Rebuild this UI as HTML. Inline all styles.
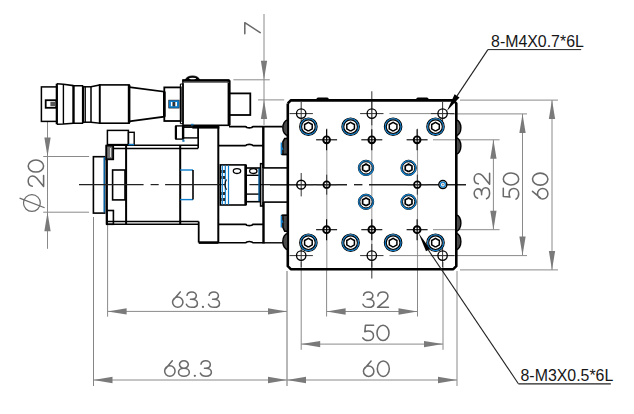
<!DOCTYPE html>
<html><head><meta charset="utf-8"><style>
html,body{margin:0;padding:0;background:#fff;width:634px;height:414px;overflow:hidden}
svg{display:block}
text{font-family:"Liberation Sans",sans-serif}
</style></head><body>
<svg width="634" height="414" viewBox="0 0 634 414">
<line x1="264" y1="14" x2="264" y2="125" stroke="#8a8a8a" stroke-width="1" />
<polygon points="264.00,79.80 260.85,60.80 267.15,60.80" fill="#7a7a7a" stroke="none" stroke-width="0"/>
<polygon points="264.00,99.90 267.15,118.90 260.85,118.90" fill="#7a7a7a" stroke="none" stroke-width="0"/>
<line x1="233.4" y1="79.8" x2="269.8" y2="79.8" stroke="#8a8a8a" stroke-width="1" />
<line x1="258" y1="99.9" x2="284.2" y2="99.9" stroke="#8a8a8a" stroke-width="1" />
<g transform="translate(244,34.50) rotate(-90) scale(1.0,1)" fill="none" stroke="#6a6a6a" stroke-width="1.55" stroke-linecap="round" stroke-linejoin="round"><path transform="translate(0.00,0)" d="M0.8,0.8 L11.8,0.8 L1.9,16.2"/></g>
<line x1="493.4" y1="139.8" x2="493.4" y2="229.7" stroke="#8a8a8a" stroke-width="1" />
<polygon points="493.40,139.80 496.55,158.80 490.25,158.80" fill="#7a7a7a" stroke="none" stroke-width="0"/>
<polygon points="493.40,229.70 490.25,210.70 496.55,210.70" fill="#7a7a7a" stroke="none" stroke-width="0"/>
<g transform="translate(473.4,199.55) rotate(-90) scale(1.0,1)" fill="none" stroke="#6a6a6a" stroke-width="1.55" stroke-linecap="round" stroke-linejoin="round"><path transform="translate(0.00,0)" d="M1.4,4.2 C1.8,2.0 3.8,0.8 6.2,0.8 C8.8,0.8 10.7,2.5 10.7,4.5 C10.7,6.7 8.9,8.2 6.0,8.2 L4.9,8.2 M6.0,8.2 C9.6,8.2 11.8,10.0 11.8,12.3 C11.8,14.7 9.6,16.2 6.3,16.2 C3.6,16.2 1.6,15.0 0.8,13.1"/><path transform="translate(14.50,0)" d="M1.2,4.9 C1.4,2.3 3.6,0.8 6.3,0.8 C9.2,0.8 11.3,2.6 11.3,5.1 C11.3,6.8 10.5,8.0 9.3,9.2 L0.9,16.2 L11.8,16.2"/></g>
<line x1="522.5" y1="113.9" x2="522.5" y2="255.6" stroke="#8a8a8a" stroke-width="1" />
<polygon points="522.50,113.90 525.65,132.90 519.35,132.90" fill="#7a7a7a" stroke="none" stroke-width="0"/>
<polygon points="522.50,255.60 519.35,236.60 525.65,236.60" fill="#7a7a7a" stroke="none" stroke-width="0"/>
<g transform="translate(502.49999999999994,199.90) rotate(-90) scale(1.0,1)" fill="none" stroke="#6a6a6a" stroke-width="1.55" stroke-linecap="round" stroke-linejoin="round"><path transform="translate(0.00,0)" d="M11.6,0.8 L3.5,0.8 L2.8,7.4 C3.9,6.9 5.0,6.6 6.2,6.6 C9.4,6.6 11.5,8.6 11.5,11.4 C11.5,14.2 9.2,16.2 6.1,16.2 C3.7,16.2 1.8,15.2 0.8,13.5"/><path transform="translate(14.20,0)" d="M6.8,0.8 A6,7.7 0 1 1 6.8,16.2 A6,7.7 0 1 1 6.8,0.8"/></g>
<line x1="552" y1="100.1" x2="552" y2="269.9" stroke="#8a8a8a" stroke-width="1" />
<polygon points="552.00,100.10 555.15,119.10 548.85,119.10" fill="#7a7a7a" stroke="none" stroke-width="0"/>
<polygon points="552.00,269.90 548.85,250.90 555.15,250.90" fill="#7a7a7a" stroke="none" stroke-width="0"/>
<g transform="translate(531.7,199.70) rotate(-90) scale(1.0,1)" fill="none" stroke="#6a6a6a" stroke-width="1.55" stroke-linecap="round" stroke-linejoin="round"><path transform="translate(0.00,0)" d="M8.4,0.8 L1.5,8.9 M0.75,11 A5.2,5.2 0 1 0 11.15,11 A5.2,5.2 0 1 0 0.75,11"/><path transform="translate(13.80,0)" d="M6.8,0.8 A6,7.7 0 1 1 6.8,16.2 A6,7.7 0 1 1 6.8,0.8"/></g>
<line x1="107.6" y1="225" x2="107.6" y2="316.7" stroke="#8a8a8a" stroke-width="1" />
<line x1="93.5" y1="217" x2="93.5" y2="386" stroke="#858585" stroke-width="1" />
<line x1="287" y1="271" x2="287" y2="386" stroke="#707070" stroke-width="1" />
<line x1="457" y1="271" x2="457" y2="386" stroke="#8a8a8a" stroke-width="1" />
<line x1="301.2" y1="262" x2="301.2" y2="349.8" stroke="#8a8a8a" stroke-width="1" />
<line x1="443" y1="262" x2="443" y2="349.8" stroke="#8a8a8a" stroke-width="1" />
<line x1="326.6" y1="271" x2="326.6" y2="316.5" stroke="#8a8a8a" stroke-width="1" />
<line x1="417.5" y1="271" x2="417.5" y2="316.5" stroke="#8a8a8a" stroke-width="1" />
<line x1="107.6" y1="311.4" x2="287" y2="311.4" stroke="#8a8a8a" stroke-width="1" />
<polygon points="107.60,311.40 126.60,308.25 126.60,314.55" fill="#7a7a7a" stroke="none" stroke-width="0"/>
<polygon points="287.00,311.40 268.00,314.55 268.00,308.25" fill="#7a7a7a" stroke="none" stroke-width="0"/>
<g transform="translate(171.80,291.1) scale(1.0,1)" fill="none" stroke="#6a6a6a" stroke-width="1.55" stroke-linecap="round" stroke-linejoin="round"><path transform="translate(0.00,0)" d="M8.4,0.8 L1.5,8.9 M0.75,11 A5.2,5.2 0 1 0 11.15,11 A5.2,5.2 0 1 0 0.75,11"/><path transform="translate(13.80,0)" d="M1.4,4.2 C1.8,2.0 3.8,0.8 6.2,0.8 C8.8,0.8 10.7,2.5 10.7,4.5 C10.7,6.7 8.9,8.2 6.0,8.2 L4.9,8.2 M6.0,8.2 C9.6,8.2 11.8,10.0 11.8,12.3 C11.8,14.7 9.6,16.2 6.3,16.2 C3.6,16.2 1.6,15.0 0.8,13.1"/><circle cx="31.15" cy="15.85" r="1.15" fill="#6a6a6a" stroke="none"/><path transform="translate(35.90,0)" d="M1.4,4.2 C1.8,2.0 3.8,0.8 6.2,0.8 C8.8,0.8 10.7,2.5 10.7,4.5 C10.7,6.7 8.9,8.2 6.0,8.2 L4.9,8.2 M6.0,8.2 C9.6,8.2 11.8,10.0 11.8,12.3 C11.8,14.7 9.6,16.2 6.3,16.2 C3.6,16.2 1.6,15.0 0.8,13.1"/></g>
<line x1="93.5" y1="380" x2="287" y2="380" stroke="#8a8a8a" stroke-width="1" />
<polygon points="93.50,380.00 112.50,376.85 112.50,383.15" fill="#7a7a7a" stroke="none" stroke-width="0"/>
<polygon points="287.00,380.00 268.00,383.15 268.00,376.85" fill="#7a7a7a" stroke="none" stroke-width="0"/>
<g transform="translate(163.90,360) scale(1.0,1)" fill="none" stroke="#6a6a6a" stroke-width="1.55" stroke-linecap="round" stroke-linejoin="round"><path transform="translate(0.00,0)" d="M8.4,0.8 L1.5,8.9 M0.75,11 A5.2,5.2 0 1 0 11.15,11 A5.2,5.2 0 1 0 0.75,11"/><path transform="translate(13.80,0)" d="M6.2,0.8 A4.4,3.7 0 1 1 6.2,8.2 A4.4,3.7 0 1 1 6.2,0.8 M6.2,8.2 A5.4,4.0 0 1 1 6.2,16.2 A5.4,4.0 0 1 1 6.2,8.2"/><circle cx="30.95" cy="15.85" r="1.15" fill="#6a6a6a" stroke="none"/><path transform="translate(35.70,0)" d="M1.4,4.2 C1.8,2.0 3.8,0.8 6.2,0.8 C8.8,0.8 10.7,2.5 10.7,4.5 C10.7,6.7 8.9,8.2 6.0,8.2 L4.9,8.2 M6.0,8.2 C9.6,8.2 11.8,10.0 11.8,12.3 C11.8,14.7 9.6,16.2 6.3,16.2 C3.6,16.2 1.6,15.0 0.8,13.1"/></g>
<line x1="326.6" y1="311.5" x2="417.5" y2="311.5" stroke="#8a8a8a" stroke-width="1" />
<polygon points="326.60,311.50 345.60,308.35 345.60,314.65" fill="#7a7a7a" stroke="none" stroke-width="0"/>
<polygon points="417.50,311.50 398.50,314.65 398.50,308.35" fill="#7a7a7a" stroke="none" stroke-width="0"/>
<g transform="translate(362.15,291.1) scale(1.0,1)" fill="none" stroke="#6a6a6a" stroke-width="1.55" stroke-linecap="round" stroke-linejoin="round"><path transform="translate(0.00,0)" d="M1.4,4.2 C1.8,2.0 3.8,0.8 6.2,0.8 C8.8,0.8 10.7,2.5 10.7,4.5 C10.7,6.7 8.9,8.2 6.0,8.2 L4.9,8.2 M6.0,8.2 C9.6,8.2 11.8,10.0 11.8,12.3 C11.8,14.7 9.6,16.2 6.3,16.2 C3.6,16.2 1.6,15.0 0.8,13.1"/><path transform="translate(14.50,0)" d="M1.2,4.9 C1.4,2.3 3.6,0.8 6.3,0.8 C9.2,0.8 11.3,2.6 11.3,5.1 C11.3,6.8 10.5,8.0 9.3,9.2 L0.9,16.2 L11.8,16.2"/></g>
<line x1="301.2" y1="344.1" x2="443" y2="344.1" stroke="#8a8a8a" stroke-width="1" />
<polygon points="301.20,344.10 320.20,340.95 320.20,347.25" fill="#7a7a7a" stroke="none" stroke-width="0"/>
<polygon points="443.00,344.10 424.00,347.25 424.00,340.95" fill="#7a7a7a" stroke="none" stroke-width="0"/>
<g transform="translate(362.00,324.4) scale(1.0,1)" fill="none" stroke="#6a6a6a" stroke-width="1.55" stroke-linecap="round" stroke-linejoin="round"><path transform="translate(0.00,0)" d="M11.6,0.8 L3.5,0.8 L2.8,7.4 C3.9,6.9 5.0,6.6 6.2,6.6 C9.4,6.6 11.5,8.6 11.5,11.4 C11.5,14.2 9.2,16.2 6.1,16.2 C3.7,16.2 1.8,15.2 0.8,13.5"/><path transform="translate(14.20,0)" d="M6.8,0.8 A6,7.7 0 1 1 6.8,16.2 A6,7.7 0 1 1 6.8,0.8"/></g>
<line x1="287" y1="380" x2="457" y2="380" stroke="#8a8a8a" stroke-width="1" />
<polygon points="287.00,380.00 306.00,376.85 306.00,383.15" fill="#7a7a7a" stroke="none" stroke-width="0"/>
<polygon points="457.00,380.00 438.00,383.15 438.00,376.85" fill="#7a7a7a" stroke="none" stroke-width="0"/>
<g transform="translate(362.70,360.2) scale(1.0,1)" fill="none" stroke="#6a6a6a" stroke-width="1.55" stroke-linecap="round" stroke-linejoin="round"><path transform="translate(0.00,0)" d="M8.4,0.8 L1.5,8.9 M0.75,11 A5.2,5.2 0 1 0 11.15,11 A5.2,5.2 0 1 0 0.75,11"/><path transform="translate(13.80,0)" d="M6.8,0.8 A6,7.7 0 1 1 6.8,16.2 A6,7.7 0 1 1 6.8,0.8"/></g>
<line x1="47.5" y1="121.4" x2="47.5" y2="248.8" stroke="#8a8a8a" stroke-width="1" />
<polygon points="47.50,156.50 44.35,137.50 50.65,137.50" fill="#7a7a7a" stroke="none" stroke-width="0"/>
<polygon points="47.50,212.20 50.65,231.20 44.35,231.20" fill="#7a7a7a" stroke="none" stroke-width="0"/>
<line x1="43.2" y1="156.5" x2="89.1" y2="156.5" stroke="#8a8a8a" stroke-width="1" />
<line x1="43.2" y1="212.2" x2="89.1" y2="212.2" stroke="#8a8a8a" stroke-width="1" />
<g transform="translate(27.4,187.35) rotate(-90) scale(1.0,1)" fill="none" stroke="#6a6a6a" stroke-width="1.55" stroke-linecap="round" stroke-linejoin="round"><path transform="translate(0.00,0)" d="M1.2,4.9 C1.4,2.3 3.6,0.8 6.3,0.8 C9.2,0.8 11.3,2.6 11.3,5.1 C11.3,6.8 10.5,8.0 9.3,9.2 L0.9,16.2 L11.8,16.2"/><path transform="translate(14.50,0)" d="M6.8,0.8 A6,7.7 0 1 1 6.8,16.2 A6,7.7 0 1 1 6.8,0.8"/></g>
<circle cx="31.9" cy="203.05" r="8.4" fill="none" stroke="#6a6a6a" stroke-width="1.2"/>
<line x1="19.6" y1="198.1" x2="44.6" y2="207.7" stroke="#6a6a6a" stroke-width="1.2" />
<rect x="41.4" y="86.9" width="15.399999999999999" height="34.5" fill="none" stroke="#000" stroke-width="1.5"/>
<rect x="45.7" y="100.2" width="10.599999999999994" height="7.599999999999994" fill="none" stroke="#000" stroke-width="1.8"/>
<rect x="47.3" y="102" width="2.9000000000000057" height="4" fill="#fff" stroke="none" stroke-width="0"/>
<rect x="50.4" y="101.8" width="4.600000000000001" height="4.400000000000006" fill="#555" stroke="none" stroke-width="0"/>
<line x1="56.8" y1="83.7" x2="56.8" y2="124.2" stroke="#000" stroke-width="2.2" />
<polyline points="56.8,83.7 63.4,84.2 73.5,85.6 83.1,85.8" fill="none" stroke="#000" stroke-width="1.6" />
<polyline points="56.8,124.2 63.4,124 73.5,123.3 83.1,123.2" fill="none" stroke="#000" stroke-width="1.6" />
<line x1="63.4" y1="84.2" x2="63.4" y2="124" stroke="#000" stroke-width="1.4" />
<line x1="73.5" y1="85.6" x2="73.5" y2="123.3" stroke="#000" stroke-width="2.4" />
<line x1="83.1" y1="85.8" x2="83.1" y2="123.2" stroke="#000" stroke-width="2.4" />
<rect x="83.1" y="86.8" width="7.900000000000006" height="35.400000000000006" fill="none" stroke="#000" stroke-width="1.5"/>
<line x1="85.3" y1="86.8" x2="85.3" y2="122.2" stroke="#000" stroke-width="1.2" />
<polyline points="91,86.8 99.7,84.9 99.7,123.2 91,122.2" fill="none" stroke="#000" stroke-width="1.6" />
<rect x="99.7" y="84.9" width="29.39999999999999" height="38.3" fill="none" stroke="#000" stroke-width="1.6"/>
<line x1="129.1" y1="84.9" x2="129.1" y2="122.9" stroke="#000" stroke-width="2.6" />
<polyline points="129.1,87.1 164.3,91.7 164.3,116.7 129.1,121.4" fill="none" stroke="#000" stroke-width="1.8" />
<line x1="164.3" y1="91.7" x2="164.3" y2="116.7" stroke="#000" stroke-width="2.6" />
<rect x="164.3" y="87.4" width="16.5" height="33.599999999999994" fill="none" stroke="#000" stroke-width="1.8"/>
<line x1="180.4" y1="84" x2="180.4" y2="123.7" stroke="#000" stroke-width="1.1" />
<line x1="183" y1="84" x2="183" y2="123.7" stroke="#000" stroke-width="1.1" />
<line x1="180.4" y1="84" x2="183" y2="84" stroke="#000" stroke-width="1" />
<line x1="180.4" y1="123.7" x2="183" y2="123.7" stroke="#000" stroke-width="1" />
<rect x="183" y="80.3" width="46.099999999999994" height="45.0" fill="none" stroke="#000" stroke-width="1.6"/>
<line x1="229.1" y1="80.3" x2="229.1" y2="125.3" stroke="#000" stroke-width="3" />
<line x1="182.4" y1="80.5" x2="229.1" y2="80.5" stroke="#000" stroke-width="2.4" />
<line x1="183" y1="82.3" x2="229.1" y2="82.3" stroke="#555" stroke-width="1.0" />
<path d="M185.2,80.6 A7.2,4.6 0 0 1 199.8,80.6 Z" fill="#000" stroke="#000" stroke-width="0.8"/><ellipse cx="192.6" cy="78.6" rx="3.6" ry="0.75" fill="#fff"/>
<rect x="229.1" y="93.4" width="21.200000000000017" height="21.599999999999994" fill="none" stroke="#000" stroke-width="1.8"/>
<rect x="168.7" y="100.1" width="10.5" height="8.0" fill="#0b7ccb" stroke="#222" stroke-width="0.6"/>
<rect x="170.9" y="102" width="1.6999999999999886" height="4.200000000000003" fill="#fff" stroke="none" stroke-width="0"/>
<rect x="175.2" y="102" width="1.8000000000000114" height="4.200000000000003" fill="#fff" stroke="none" stroke-width="0"/>
<rect x="172.6" y="102" width="2.5999999999999943" height="4.200000000000003" fill="#333" stroke="none" stroke-width="0"/>
<rect x="175.9" y="125.9" width="7.199999999999989" height="13.199999999999989" fill="none" stroke="#000" stroke-width="1.4"/>
<line x1="175.9" y1="125.9" x2="175.9" y2="139.1" stroke="#000" stroke-width="2.2" />
<line x1="183.1" y1="125.9" x2="183.1" y2="139.1" stroke="#000" stroke-width="2.4" />
<rect x="183.1" y="127" width="15.099999999999994" height="10.900000000000006" fill="none" stroke="#000" stroke-width="1.4"/>
<line x1="183.1" y1="127.1" x2="192.3" y2="127.1" stroke="#000" stroke-width="1.4" />
<line x1="192.3" y1="127.2" x2="219.3" y2="127.2" stroke="#000" stroke-width="2.8" />
<rect x="191" y="123.8" width="2.6" height="1.6" fill="#1f78b4"/>
<line x1="198.2" y1="127" x2="198.2" y2="148.2" stroke="#000" stroke-width="1.6" />
<line x1="218.3" y1="126.5" x2="218.3" y2="242.9" stroke="#000" stroke-width="2.0" />
<path d="M229,126.6 L245.3,126.6 Q246.3,126.6 246.8,127.5 Q249.3,128.2 251.8,127.5 Q252.3,126.6 253.3,126.6 L282.5,126.6" fill="none" stroke="#000" stroke-width="1.6"/>
<line x1="263.3" y1="126.6" x2="263.3" y2="167.9" stroke="#000" stroke-width="2.4" />
<path d="M218,145.6 L245.3,145.6 Q246.3,145.6 246.8,144.7 Q249.3,144.0 251.8,144.7 Q252.3,145.6 253.3,145.6 L263.3,145.6" fill="none" stroke="#000" stroke-width="1.6"/>
<line x1="263.3" y1="167.9" x2="287" y2="167.9" stroke="#000" stroke-width="1.6" />
<line x1="263.3" y1="202.1" x2="287" y2="202.1" stroke="#000" stroke-width="1.6" />
<line x1="263.5" y1="202.1" x2="263.5" y2="243.5" stroke="#000" stroke-width="2.4" />
<path d="M218,224.4 L245.3,224.4 Q246.3,224.4 246.8,225.3 Q249.3,226.0 251.8,225.3 Q252.3,224.4 253.3,224.4 L263.3,224.4" fill="none" stroke="#000" stroke-width="1.6"/>
<path d="M218,242.8 L245.3,242.8 Q246.3,242.8 246.8,241.9 Q249.3,241.20000000000002 251.8,241.9 Q252.3,242.8 253.3,242.8 L263.3,242.8" fill="none" stroke="#000" stroke-width="1.6"/>
<line x1="263.3" y1="242.8" x2="283" y2="242.8" stroke="#000" stroke-width="1.4" />
<line x1="198.7" y1="242.6" x2="218.3" y2="242.6" stroke="#000" stroke-width="2.6" />
<line x1="198.7" y1="221.5" x2="198.7" y2="242.6" stroke="#000" stroke-width="1.8" />
<rect x="182.3" y="139.6" width="2.2" height="2.2" fill="#1f78b4"/>
<line x1="106.8" y1="145.3" x2="198.2" y2="145.3" stroke="#000" stroke-width="1.5" />
<line x1="106.8" y1="148.4" x2="198.2" y2="148.4" stroke="#000" stroke-width="1.5" />
<line x1="106.8" y1="221.5" x2="198.7" y2="221.5" stroke="#000" stroke-width="1.5" />
<line x1="106.8" y1="224.3" x2="198.7" y2="224.3" stroke="#000" stroke-width="1.5" />
<line x1="106.8" y1="145.3" x2="106.8" y2="224.6" stroke="#000" stroke-width="2.2" />
<line x1="126.1" y1="145.3" x2="126.1" y2="224.6" stroke="#000" stroke-width="2.0" />
<line x1="180.2" y1="145.3" x2="180.2" y2="224.6" stroke="#000" stroke-width="2.0" />
<rect x="106.3" y="145.6" width="6.900000000000006" height="13.700000000000017" fill="#777" stroke="#000" stroke-width="1.8"/>
<line x1="110.5" y1="148" x2="110.5" y2="157" stroke="#ddd" stroke-width="1" />
<rect x="106.8" y="210.5" width="6.6000000000000085" height="13.800000000000011" fill="none" stroke="#000" stroke-width="1.6"/>
<rect x="93.4" y="156.7" width="11.199999999999989" height="56.400000000000006" fill="none" stroke="#000" stroke-width="1.6"/>
<line x1="104.2" y1="157" x2="104.2" y2="212.5" stroke="#0b7ccb" stroke-width="1.2" />
<rect x="112.6" y="170" width="12.400000000000006" height="29.900000000000006" fill="none" stroke="#000" stroke-width="1.6"/>
<line x1="180.2" y1="170" x2="193" y2="170" stroke="#0b7ccb" stroke-width="1.4" />
<line x1="180.2" y1="199.6" x2="193" y2="199.6" stroke="#0b7ccb" stroke-width="1.4" />
<line x1="193" y1="170" x2="193" y2="199.6" stroke="#000" stroke-width="1.6" />
<rect x="107.4" y="130.4" width="21.0" height="14.199999999999989" fill="none" stroke="#000" stroke-width="1.5"/>
<rect x="128.4" y="132.3" width="5.799999999999983" height="12.299999999999983" fill="none" stroke="#000" stroke-width="1.4"/>
<line x1="128.4" y1="144.6" x2="134.2" y2="144.6" stroke="#0b7ccb" stroke-width="1.4" />
<line x1="79" y1="184.6" x2="143.6" y2="184.6" stroke="#222" stroke-width="1.2" />
<line x1="150.6" y1="184.6" x2="158.7" y2="184.6" stroke="#222" stroke-width="1.2" />
<line x1="165.1" y1="184.6" x2="218" y2="184.6" stroke="#222" stroke-width="1.2" />
<line x1="249.4" y1="184.7" x2="287" y2="184.7" stroke="#222" stroke-width="1.2" />
<line x1="218" y1="184.6" x2="226" y2="184.6" stroke="#222" stroke-width="1.2" />
<rect x="220.3" y="164.9" width="25.399999999999977" height="40.099999999999994" fill="none" stroke="#000" stroke-width="1.6"/>
<line x1="245.7" y1="164.9" x2="245.7" y2="205" stroke="#000" stroke-width="2.6" />
<line x1="222.3" y1="165.5" x2="222.3" y2="204.5" stroke="#0b7ccb" stroke-width="1.2" />
<line x1="225.3" y1="165.5" x2="225.3" y2="204.5" stroke="#0b7ccb" stroke-width="1.2" />
<line x1="228.5" y1="165.5" x2="228.5" y2="204.5" stroke="#0b7ccb" stroke-width="1.2" />
<line x1="220.8" y1="170" x2="220.8" y2="173" stroke="#000" stroke-width="1.6" />
<line x1="224" y1="170" x2="224" y2="173" stroke="#000" stroke-width="1.6" />
<line x1="220.8" y1="176" x2="220.8" y2="179" stroke="#000" stroke-width="1.6" />
<line x1="224" y1="176" x2="224" y2="179" stroke="#000" stroke-width="1.6" />
<line x1="220.8" y1="192" x2="220.8" y2="195" stroke="#000" stroke-width="1.6" />
<line x1="224" y1="192" x2="224" y2="195" stroke="#000" stroke-width="1.6" />
<line x1="220.8" y1="198" x2="220.8" y2="201" stroke="#000" stroke-width="1.6" />
<line x1="224" y1="198" x2="224" y2="201" stroke="#000" stroke-width="1.6" />
<path d="M226.5,179.5 Q223.5,184.6 226.5,189.7" fill="none" stroke="#000" stroke-width="1.1"/>
<rect x="245.7" y="168" width="13.699999999999989" height="33.69999999999999" fill="none" stroke="#000" stroke-width="1.6"/>
<line x1="245.7" y1="175.3" x2="259.4" y2="175.3" stroke="#000" stroke-width="1.4" />
<line x1="245.7" y1="194.1" x2="259.4" y2="194.1" stroke="#000" stroke-width="1.4" />
<line x1="259.1" y1="168.5" x2="259.1" y2="201.2" stroke="#0b7ccb" stroke-width="1.2" />
<rect x="260.6" y="163.7" width="2.3999999999999773" height="42.30000000000001" fill="none" stroke="#000" stroke-width="1.6"/>
<ellipse cx="237" cy="171.1" rx="3.7" ry="2.4" fill="none" stroke="#000" stroke-width="1.3"/>
<ellipse cx="253.3" cy="171.1" rx="3.7" ry="2.4" fill="none" stroke="#000" stroke-width="1.3"/>
<line x1="371.8" y1="108" x2="371.8" y2="262" stroke="#9c9c9c" stroke-width="1.1" />
<line x1="371.8" y1="91.2" x2="371.8" y2="108" stroke="#444" stroke-width="1.1" />
<line x1="371.8" y1="262" x2="371.8" y2="278.6" stroke="#444" stroke-width="1.1" />
<line x1="326.8" y1="128.6" x2="326.8" y2="271" stroke="#9c9c9c" stroke-width="1.1" />
<line x1="417.5" y1="128.6" x2="417.5" y2="271" stroke="#9c9c9c" stroke-width="1.1" />
<line x1="270" y1="184.7" x2="347" y2="184.7" stroke="#222" stroke-width="1.4" />
<line x1="354" y1="184.7" x2="362.4" y2="184.7" stroke="#222" stroke-width="1.4" />
<line x1="369" y1="184.7" x2="466" y2="184.7" stroke="#222" stroke-width="1.4" />
<line x1="450" y1="113.9" x2="527" y2="113.9" stroke="#8a8a8a" stroke-width="1" />
<line x1="450" y1="255.6" x2="527" y2="255.6" stroke="#8a8a8a" stroke-width="1" />
<line x1="460" y1="100.1" x2="558" y2="100.1" stroke="#8a8a8a" stroke-width="1" />
<line x1="460" y1="269.9" x2="558" y2="269.9" stroke="#8a8a8a" stroke-width="1" />
<line x1="433" y1="139.8" x2="499.6" y2="139.8" stroke="#8a8a8a" stroke-width="1" />
<line x1="433" y1="229.7" x2="499.6" y2="229.7" stroke="#8a8a8a" stroke-width="1" />
<polyline points="287.8,103.4 290.8,100.4 453.3,100.4 456.3,103.4 456.3,266.2 453.3,269.2 290.8,269.2 287.8,266.2 287.8,103.4" fill="none" stroke="#000" stroke-width="2.6" stroke-linejoin="round"/>
<rect x="316.4" y="97.6" width="12.4" height="3.5" rx="1.7" fill="#000"/>
<rect x="416.2" y="97.6" width="12.4" height="3.5" rx="1.7" fill="#000"/>
<line x1="389.4" y1="113.6" x2="450" y2="113.6" stroke="#8a8a8a" stroke-width="1" />
<line x1="389.4" y1="255.6" x2="450" y2="255.6" stroke="#8a8a8a" stroke-width="1" />
<path d="M287.8,120 A5,7.75 0 0 0 287.8,135.5 Z" fill="#4a4a4a" stroke="#000" stroke-width="1.4"/>
<path d="M456.3,120 A4.6,7.75 0 0 1 456.3,135.5 Z" fill="#4a4a4a" stroke="#000" stroke-width="1.4"/>
<path d="M456.3,138 A4.6,8.0 0 0 1 456.3,154 Z" fill="#4a4a4a" stroke="#000" stroke-width="1.4"/>
<path d="M456.3,215 A4.6,8.0 0 0 1 456.3,231 Z" fill="#4a4a4a" stroke="#000" stroke-width="1.4"/>
<path d="M287.8,233.5 A5,8.0 0 0 0 287.8,249.5 Z" fill="#4a4a4a" stroke="#000" stroke-width="1.4"/>
<path d="M456.3,233.5 A4.6,8.0 0 0 1 456.3,249.5 Z" fill="#4a4a4a" stroke="#000" stroke-width="1.4"/>
<path d="M287.5,138.6 L284.7,138.6 L282.9,141.8 L282.9,154.4 L287.5,154.4 Z" fill="#4a4a4a" stroke="#000" stroke-width="1.5"/>
<path d="M287.5,215.3 L282.9,215.3 L282.9,227.4 L284.7,231.2 L287.5,231.2 Z" fill="#4a4a4a" stroke="#000" stroke-width="1.5"/>
<line x1="281.3" y1="142.4" x2="281.3" y2="154.5" stroke="#0b7ccb" stroke-width="1.3" />
<line x1="281.3" y1="154.5" x2="287.5" y2="154.5" stroke="#000" stroke-width="1.3" />
<line x1="281.6" y1="146.5" x2="283" y2="150" stroke="#0b7ccb" stroke-width="1" />
<line x1="281.3" y1="215.3" x2="281.3" y2="227.4" stroke="#0b7ccb" stroke-width="1.3" />
<line x1="281.3" y1="215.3" x2="287.5" y2="215.3" stroke="#000" stroke-width="1.3" />
<line x1="281.6" y1="219.5" x2="283" y2="223" stroke="#0b7ccb" stroke-width="1" />
<line x1="289.5" y1="113.6" x2="312.9" y2="113.6" stroke="#333" stroke-width="1" />
<line x1="301.2" y1="101.89999999999999" x2="301.2" y2="125.3" stroke="#333" stroke-width="1" />
<circle cx="301.2" cy="113.6" r="4.7" fill="none" stroke="#000" stroke-width="1.3"/>
<line x1="289.5" y1="255.6" x2="312.9" y2="255.6" stroke="#333" stroke-width="1" />
<line x1="301.2" y1="243.9" x2="301.2" y2="267.3" stroke="#333" stroke-width="1" />
<circle cx="301.2" cy="255.6" r="4.7" fill="none" stroke="#000" stroke-width="1.3"/>
<line x1="360.1" y1="113.6" x2="383.5" y2="113.6" stroke="#333" stroke-width="1" />
<line x1="371.8" y1="101.89999999999999" x2="371.8" y2="125.3" stroke="#333" stroke-width="1" />
<circle cx="371.8" cy="113.6" r="4.7" fill="none" stroke="#000" stroke-width="1.3"/>
<line x1="360.1" y1="255.6" x2="383.5" y2="255.6" stroke="#333" stroke-width="1" />
<line x1="371.8" y1="243.9" x2="371.8" y2="267.3" stroke="#333" stroke-width="1" />
<circle cx="371.8" cy="255.6" r="4.7" fill="none" stroke="#000" stroke-width="1.3"/>
<line x1="430.90000000000003" y1="113.6" x2="454.3" y2="113.6" stroke="#333" stroke-width="1" />
<line x1="442.6" y1="101.89999999999999" x2="442.6" y2="125.3" stroke="#333" stroke-width="1" />
<circle cx="442.6" cy="113.6" r="4.7" fill="none" stroke="#000" stroke-width="1.3"/>
<line x1="430.90000000000003" y1="255.6" x2="454.3" y2="255.6" stroke="#333" stroke-width="1" />
<line x1="442.6" y1="243.9" x2="442.6" y2="267.3" stroke="#333" stroke-width="1" />
<circle cx="442.6" cy="255.6" r="4.7" fill="none" stroke="#000" stroke-width="1.3"/>
<line x1="289.5" y1="184.7" x2="312.9" y2="184.7" stroke="#333" stroke-width="1" />
<line x1="301.2" y1="173.0" x2="301.2" y2="196.39999999999998" stroke="#333" stroke-width="1" />
<circle cx="301.2" cy="184.7" r="4.4" fill="none" stroke="#000" stroke-width="1.5"/>
<line x1="316.1" y1="139.8" x2="337.1" y2="139.8" stroke="#000" stroke-width="1.1" />
<line x1="326.6" y1="129.3" x2="326.6" y2="150.3" stroke="#000" stroke-width="1.1" />
<circle cx="326.6" cy="139.8" r="3.4" fill="none" stroke="#000" stroke-width="1.9"/>
<line x1="316.1" y1="229.7" x2="337.1" y2="229.7" stroke="#000" stroke-width="1.1" />
<line x1="326.6" y1="219.2" x2="326.6" y2="240.2" stroke="#000" stroke-width="1.1" />
<circle cx="326.6" cy="229.7" r="3.4" fill="none" stroke="#000" stroke-width="1.9"/>
<line x1="361.3" y1="139.8" x2="382.3" y2="139.8" stroke="#000" stroke-width="1.1" />
<line x1="371.8" y1="129.3" x2="371.8" y2="150.3" stroke="#000" stroke-width="1.1" />
<circle cx="371.8" cy="139.8" r="3.4" fill="none" stroke="#000" stroke-width="1.9"/>
<line x1="361.3" y1="229.7" x2="382.3" y2="229.7" stroke="#000" stroke-width="1.1" />
<line x1="371.8" y1="219.2" x2="371.8" y2="240.2" stroke="#000" stroke-width="1.1" />
<circle cx="371.8" cy="229.7" r="3.4" fill="none" stroke="#000" stroke-width="1.9"/>
<line x1="406.6" y1="139.8" x2="427.6" y2="139.8" stroke="#000" stroke-width="1.1" />
<line x1="417.1" y1="129.3" x2="417.1" y2="150.3" stroke="#000" stroke-width="1.1" />
<circle cx="417.1" cy="139.8" r="3.4" fill="none" stroke="#000" stroke-width="1.9"/>
<line x1="406.6" y1="229.7" x2="427.6" y2="229.7" stroke="#000" stroke-width="1.1" />
<line x1="417.1" y1="219.2" x2="417.1" y2="240.2" stroke="#000" stroke-width="1.1" />
<circle cx="417.1" cy="229.7" r="3.4" fill="none" stroke="#000" stroke-width="1.9"/>
<line x1="316.7" y1="184.7" x2="336.7" y2="184.7" stroke="#333" stroke-width="1" />
<line x1="326.7" y1="174.7" x2="326.7" y2="194.7" stroke="#333" stroke-width="1" />
<circle cx="326.7" cy="184.7" r="3.3" fill="none" stroke="#000" stroke-width="1.7"/>
<line x1="407.3" y1="184.7" x2="427.3" y2="184.7" stroke="#333" stroke-width="1" />
<line x1="417.3" y1="174.7" x2="417.3" y2="194.7" stroke="#333" stroke-width="1" />
<circle cx="417.3" cy="184.7" r="3.3" fill="none" stroke="#000" stroke-width="1.7"/>
<circle cx="308.4" cy="126.7" r="8.7" fill="#fff" stroke="#000" stroke-width="1.2"/>
<circle cx="308.4" cy="126.7" r="7.8" fill="none" stroke="#0b7ccb" stroke-width="1.4"/>
<circle cx="308.4" cy="126.7" r="6.8" fill="none" stroke="#000" stroke-width="1.1"/>
<polyline points="308.4,131.1 304.58948822334844,128.9 304.58948822334844,124.5 308.4,122.3 312.2105117766515,124.5 312.2105117766515,128.9 308.4,131.1" fill="none" stroke="#000" stroke-width="1.5" />
<circle cx="308.4" cy="242.7" r="8.7" fill="#fff" stroke="#000" stroke-width="1.2"/>
<circle cx="308.4" cy="242.7" r="7.8" fill="none" stroke="#0b7ccb" stroke-width="1.4"/>
<circle cx="308.4" cy="242.7" r="6.8" fill="none" stroke="#000" stroke-width="1.1"/>
<polyline points="308.4,247.1 304.58948822334844,244.89999999999998 304.58948822334844,240.5 308.4,238.29999999999998 312.2105117766515,240.5 312.2105117766515,244.89999999999998 308.4,247.1" fill="none" stroke="#000" stroke-width="1.5" />
<circle cx="350.6" cy="126.7" r="8.7" fill="#fff" stroke="#000" stroke-width="1.2"/>
<circle cx="350.6" cy="126.7" r="7.8" fill="none" stroke="#0b7ccb" stroke-width="1.4"/>
<circle cx="350.6" cy="126.7" r="6.8" fill="none" stroke="#000" stroke-width="1.1"/>
<polyline points="350.6,131.1 346.7894882233485,128.9 346.7894882233485,124.5 350.6,122.3 354.41051177665156,124.5 354.41051177665156,128.9 350.6,131.1" fill="none" stroke="#000" stroke-width="1.5" />
<circle cx="350.6" cy="242.7" r="8.7" fill="#fff" stroke="#000" stroke-width="1.2"/>
<circle cx="350.6" cy="242.7" r="7.8" fill="none" stroke="#0b7ccb" stroke-width="1.4"/>
<circle cx="350.6" cy="242.7" r="6.8" fill="none" stroke="#000" stroke-width="1.1"/>
<polyline points="350.6,247.1 346.7894882233485,244.89999999999998 346.7894882233485,240.5 350.6,238.29999999999998 354.41051177665156,240.5 354.41051177665156,244.89999999999998 350.6,247.1" fill="none" stroke="#000" stroke-width="1.5" />
<circle cx="393.1" cy="126.7" r="8.7" fill="#fff" stroke="#000" stroke-width="1.2"/>
<circle cx="393.1" cy="126.7" r="7.8" fill="none" stroke="#0b7ccb" stroke-width="1.4"/>
<circle cx="393.1" cy="126.7" r="6.8" fill="none" stroke="#000" stroke-width="1.1"/>
<polyline points="393.1,131.1 389.2894882233485,128.9 389.2894882233485,124.5 393.1,122.3 396.91051177665156,124.5 396.91051177665156,128.9 393.1,131.1" fill="none" stroke="#000" stroke-width="1.5" />
<circle cx="393.1" cy="242.7" r="8.7" fill="#fff" stroke="#000" stroke-width="1.2"/>
<circle cx="393.1" cy="242.7" r="7.8" fill="none" stroke="#0b7ccb" stroke-width="1.4"/>
<circle cx="393.1" cy="242.7" r="6.8" fill="none" stroke="#000" stroke-width="1.1"/>
<polyline points="393.1,247.1 389.2894882233485,244.89999999999998 389.2894882233485,240.5 393.1,238.29999999999998 396.91051177665156,240.5 396.91051177665156,244.89999999999998 393.1,247.1" fill="none" stroke="#000" stroke-width="1.5" />
<circle cx="435.5" cy="126.7" r="8.7" fill="#fff" stroke="#000" stroke-width="1.2"/>
<circle cx="435.5" cy="126.7" r="7.8" fill="none" stroke="#0b7ccb" stroke-width="1.4"/>
<circle cx="435.5" cy="126.7" r="6.8" fill="none" stroke="#000" stroke-width="1.1"/>
<polyline points="435.5,131.1 431.68948822334846,128.9 431.68948822334846,124.5 435.5,122.3 439.31051177665154,124.5 439.31051177665154,128.9 435.5,131.1" fill="none" stroke="#000" stroke-width="1.5" />
<circle cx="435.5" cy="242.7" r="8.7" fill="#fff" stroke="#000" stroke-width="1.2"/>
<circle cx="435.5" cy="242.7" r="7.8" fill="none" stroke="#0b7ccb" stroke-width="1.4"/>
<circle cx="435.5" cy="242.7" r="6.8" fill="none" stroke="#000" stroke-width="1.1"/>
<polyline points="435.5,247.1 431.68948822334846,244.89999999999998 431.68948822334846,240.5 435.5,238.29999999999998 439.31051177665154,240.5 439.31051177665154,244.89999999999998 435.5,247.1" fill="none" stroke="#000" stroke-width="1.5" />
<circle cx="366.0" cy="167.9" r="7.7" fill="#fff" stroke="#000" stroke-width="0.9"/>
<circle cx="366.0" cy="167.9" r="7.0" fill="none" stroke="#0b7ccb" stroke-width="1.5"/>
<circle cx="366.0" cy="167.9" r="6.1" fill="none" stroke="#000" stroke-width="0.9"/>
<polyline points="366.0,171.8 362.6225009252407,169.85 362.6225009252407,165.95000000000002 366.0,164.0 369.3774990747593,165.95000000000002 369.3774990747593,169.85 366.0,171.8" fill="none" stroke="#000" stroke-width="1.7" />
<circle cx="366.0" cy="201.8" r="7.7" fill="#fff" stroke="#000" stroke-width="0.9"/>
<circle cx="366.0" cy="201.8" r="7.0" fill="none" stroke="#0b7ccb" stroke-width="1.5"/>
<circle cx="366.0" cy="201.8" r="6.1" fill="none" stroke="#000" stroke-width="0.9"/>
<polyline points="366.0,205.70000000000002 362.6225009252407,203.75 362.6225009252407,199.85000000000002 366.0,197.9 369.3774990747593,199.85000000000002 369.3774990747593,203.75 366.0,205.70000000000002" fill="none" stroke="#000" stroke-width="1.7" />
<circle cx="408.6" cy="167.9" r="7.7" fill="#fff" stroke="#000" stroke-width="0.9"/>
<circle cx="408.6" cy="167.9" r="7.0" fill="none" stroke="#0b7ccb" stroke-width="1.5"/>
<circle cx="408.6" cy="167.9" r="6.1" fill="none" stroke="#000" stroke-width="0.9"/>
<polyline points="408.6,171.8 405.2225009252407,169.85 405.2225009252407,165.95000000000002 408.6,164.0 411.97749907475935,165.95000000000002 411.97749907475935,169.85 408.6,171.8" fill="none" stroke="#000" stroke-width="1.7" />
<circle cx="408.6" cy="201.8" r="7.7" fill="#fff" stroke="#000" stroke-width="0.9"/>
<circle cx="408.6" cy="201.8" r="7.0" fill="none" stroke="#0b7ccb" stroke-width="1.5"/>
<circle cx="408.6" cy="201.8" r="6.1" fill="none" stroke="#000" stroke-width="0.9"/>
<polyline points="408.6,205.70000000000002 405.2225009252407,203.75 405.2225009252407,199.85000000000002 408.6,197.9 411.97749907475935,199.85000000000002 411.97749907475935,203.75 408.6,205.70000000000002" fill="none" stroke="#000" stroke-width="1.7" />
<circle cx="442.85" cy="184.6" r="4.0" fill="#fff" stroke="#000" stroke-width="1.5"/>
<circle cx="442.85" cy="184.6" r="2.5" fill="none" stroke="#0b7ccb" stroke-width="1.3"/>
<circle cx="442.85" cy="184.6" r="1.0" fill="#888" stroke="none" stroke-width="0"/>
<text x="491.1" y="47.3" font-size="16.5" fill="#161616" text-anchor="start" textLength="92.7" lengthAdjust="spacingAndGlyphs" >8-M4X0.7*6L</text>
<line x1="487.9" y1="49.6" x2="581.2" y2="49.6" stroke="#222" stroke-width="1" />
<line x1="487.9" y1="49.6" x2="457.05" y2="95.9" stroke="#222" stroke-width="1.1" />
<polygon points="446.90,110.90 454.60,94.20 459.50,97.60" fill="#000" stroke="none" stroke-width="0"/>
<text x="520.5" y="381" font-size="16.5" fill="#161616" text-anchor="start" textLength="92.8" lengthAdjust="spacingAndGlyphs" >8-M3X0.5*6L</text>
<line x1="518.4" y1="383.8" x2="610.8" y2="383.8" stroke="#222" stroke-width="1.2" />
<line x1="518.4" y1="383.8" x2="428.2" y2="249.8" stroke="#222" stroke-width="1.1" />
<polygon points="418.50,233.00 426.00,251.20 430.00,249.00" fill="#000" stroke="none" stroke-width="0"/>
</svg>
</body></html>
